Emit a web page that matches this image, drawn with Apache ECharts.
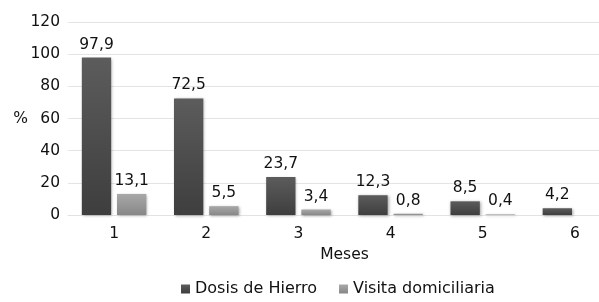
<!DOCTYPE html>
<html>
<head>
<meta charset="utf-8">
<script src="https://cdn.jsdelivr.net/npm/echarts@6/dist/echarts.min.js"></script>
<style>
    html, body { margin: 0; padding: 0; background: #fff; }
    #chart { width: 599px; height: 302px; }
</style>
</head>
<body>
<div id="chart"></div>
<script>
// datos
const meses = ['1', '2', '3', '4', '5', '6']
const dosisHierro = [97.9, 72.5, 23.7, 12.3, 8.5, 4.2]
const visitaDomiciliaria = [13.1, 5.5, 3.4, 0.8, 0.4, null]
const yTicks = [0, 20, 40, 60, 80, 100, 120]

const FONT = '"DejaVu Sans", "Liberation Sans", Arial, sans-serif'
const FS = 15.5

// gradiente vertical para cada serie
const grad = (top, bottom) => new echarts.graphic.LinearGradient(0, 0, 0, 1, [
    { offset: 0, color: top },
    { offset: 1, color: bottom }
])

const labelOpt = {
    show: true,
    position: 'top',
    distance: 5,
    color: '#111',
    fontSize: FS,
    fontFamily: FONT,
    formatter: p => String(p.value).replace('.', ',')
}

const shadow = {
    shadowColor: 'rgba(0,0,0,0.35)',
    shadowBlur: 3,
    shadowOffsetX: 1,
    shadowOffsetY: 1
}

const myChart = echarts.init(document.getElementById('chart'), null, { renderer: 'canvas' })

const option = {
    animation: false,
    textStyle: { fontFamily: FONT },
    // el área del gráfico sigue más allá del borde derecho (recortado)
    grid: { left: 68, width: 553, top: 22, bottom: 87, containLabel: false, outerBoundsMode: 'none' },
    legend: {
        left: 176,
        top: 276,
        itemWidth: 9,
        itemHeight: 9,
        itemGap: 22,
        icon: 'rect',
        textStyle: { fontSize: 16, color: '#111', fontFamily: FONT }
    },
    xAxis: {
        type: 'category',
        data: meses,
        name: 'Meses',
        nameLocation: 'middle',
        nameGap: 32,
        nameTextStyle: { fontSize: FS, color: '#111', fontFamily: FONT },
        axisLine: { lineStyle: { color: '#dfe3e7' } },
        axisTick: { show: false },
        axisLabel: { fontSize: FS, color: '#111', margin: 11, fontFamily: FONT }
    },
    yAxis: {
        type: 'value',
        min: yTicks[0],
        max: yTicks[yTicks.length - 1],
        interval: yTicks[1] - yTicks[0],
        name: '%',
        nameLocation: 'middle',
        nameGap: 40,
        nameRotate: 0,
        nameMoveOverlap: false,
        nameTextStyle: { fontSize: FS, color: '#111', fontFamily: FONT },
        axisLine: { show: false },
        axisTick: { show: false },
        axisLabel: { fontSize: FS, color: '#111', margin: 8, fontFamily: FONT },
        splitLine: { lineStyle: { color: '#e1e5e9', width: 1 } }
    },
    series: [
        {
            name: 'Dosis de Hierro',
            type: 'bar',
            data: dosisHierro,
            barGap: '20%',
            barCategoryGap: '30%',
            itemStyle: Object.assign({ color: grad('#5c5c5c', '#3e3e3e') }, shadow),
            label: labelOpt
        },
        {
            name: 'Visita domiciliaria',
            type: 'bar',
            data: visitaDomiciliaria,
            itemStyle: Object.assign({ color: grad('#a8a8a8', '#878787') }, shadow),
            label: labelOpt
        }
    ]
}

myChart.setOption(option)
</script>
</body>
</html>
